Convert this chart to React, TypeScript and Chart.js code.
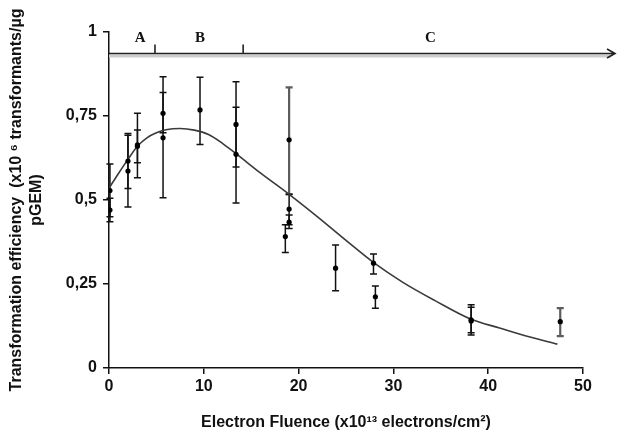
import React, { useEffect, useRef } from "react";
import { Chart, registerables } from "chart.js";

Chart.register(...registerables);

// Measured points (x: electron fluence x10^13, y: transformation efficiency)
const POINT_X = [0.1, 0.1, 2.0, 2.0, 3.0, 3.0, 5.7, 5.7, 9.6, 13.4, 13.4, 18.6, 19.0, 19.0, 19.0, 23.9, 27.9, 28.1, 38.2, 38.2, 47.6];
const POINT_Y = [0.528, 0.47, 0.616, 0.586, 0.664, 0.66, 0.758, 0.685, 0.768, 0.725, 0.636, 0.391, 0.679, 0.473, 0.434, 0.297, 0.312, 0.212, 0.143, 0.14, 0.138];
const ERR_LOW = [0.45, 0.435, 0.534, 0.479, 0.611, 0.566, 0.7, 0.507, 0.665, 0.598, 0.491, 0.344, 0.517, 0.426, 0.415, 0.23, 0.28, 0.178, 0.098, 0.105, 0.095];
const ERR_HIGH = [0.607, 0.505, 0.698, 0.693, 0.708, 0.758, 0.82, 0.867, 0.865, 0.852, 0.776, 0.426, 0.835, 0.517, 0.455, 0.366, 0.339, 0.244, 0.188, 0.181, 0.178];
const GRAY_BARS = [12, 20];

// Fitted curve
const CURVE_X = [0, 1, 2, 3, 4, 5, 6, 7.5, 9, 10.5, 12, 13.4, 16, 19, 22, 25, 28, 31, 34.3, 38.2, 41.2, 44, 47.3];
const CURVE_Y = [0.535, 0.579, 0.621, 0.66, 0.685, 0.7, 0.709, 0.713, 0.708, 0.695, 0.668, 0.638, 0.58, 0.517, 0.45, 0.38, 0.312, 0.255, 0.202, 0.145, 0.119, 0.095, 0.071];

const X_TICKS = [0, 10, 20, 30, 40, 50];
const Y_TICKS = [0, 0.25, 0.5, 0.75, 1];
const Y_TICK_LABELS = ["0", "0,25", "0,5", "0,75", "1"];

// Phase annotation on top
const ARROW_Y = 0.937;
const PHASE_BOUNDS = [4.85, 14.15];
const PHASE_LABELS = ["A", "B", "C"];
const PHASE_LABEL_X = [3.3, 9.6, 33.9];

const SANS = '"Liberation Sans", Arial, sans-serif';

const errorBarPlugin = {
  id: "errorBars",
  beforeDatasetsDraw(chart: any) {
    const { ctx } = chart;
    const x = chart.scales.x;
    const y = chart.scales.y;
    ctx.save();
    for (let i = 0; i < POINT_X.length; i++) {
      const px = x.getPixelForValue(POINT_X[i]);
      const pl = y.getPixelForValue(ERR_LOW[i]);
      const ph = y.getPixelForValue(ERR_HIGH[i]);
      const gray = GRAY_BARS.includes(i);
      ctx.strokeStyle = gray ? "#5c5c5c" : "#111";
      ctx.lineWidth = gray ? 2.2 : 1.5;
      ctx.beginPath();
      ctx.moveTo(px, pl);
      ctx.lineTo(px, ph);
      ctx.moveTo(px - 3.5, pl);
      ctx.lineTo(px + 3.5, pl);
      ctx.moveTo(px - 3.5, ph);
      ctx.lineTo(px + 3.5, ph);
      ctx.stroke();
    }
    ctx.restore();
  },
};

const phasePlugin = {
  id: "phases",
  afterDraw(chart: any) {
    const { ctx } = chart;
    const x = chart.scales.x;
    const y = chart.scales.y;
    const yA = Math.round(y.getPixelForValue(ARROW_Y)) + 0.5;
    const x0 = x.left;
    const x1 = chart.width - 12;
    ctx.save();
    ctx.fillStyle = "#cdcdcd";
    ctx.fillRect(x0, yA + 1, x1 - x0 - 4, 3);
    ctx.strokeStyle = "#222";
    ctx.lineWidth = 1.6;
    ctx.beginPath();
    ctx.moveTo(x0, yA);
    ctx.lineTo(x1, yA);
    ctx.moveTo(x1 - 8, yA - 4.5);
    ctx.lineTo(x1, yA);
    ctx.lineTo(x1 - 8, yA + 4.5);
    for (const b of PHASE_BOUNDS) {
      const px = x.getPixelForValue(b);
      ctx.moveTo(px, yA);
      ctx.lineTo(px, yA - 9);
    }
    ctx.stroke();
    ctx.fillStyle = "#111";
    ctx.font = 'bold 15px "Liberation Serif", "Times New Roman", serif';
    ctx.textAlign = "center";
    ctx.textBaseline = "middle";
    PHASE_LABELS.forEach((t, i) => {
      ctx.fillText(t, x.getPixelForValue(PHASE_LABEL_X[i]), yA - 15);
    });
    ctx.restore();
  },
};

export default function App() {
  const ref = useRef<HTMLCanvasElement | null>(null);
  useEffect(() => {
    if (!ref.current) return;
    const chart = new Chart(ref.current, {
      type: "scatter",
      data: {
        datasets: [
          {
            label: "fit",
            data: CURVE_X.map((v, i) => ({ x: v, y: CURVE_Y[i] })),
            showLine: true,
            borderColor: "#3a3a3a",
            borderWidth: 1.6,
            pointRadius: 0,
            cubicInterpolationMode: "monotone",
            fill: false,
            order: 2,
          },
          {
            label: "data",
            data: POINT_X.map((v, i) => ({ x: v, y: POINT_Y[i] })),
            showLine: false,
            pointRadius: 2.6,
            pointBackgroundColor: "#000",
            pointBorderColor: "#000",
            pointBorderWidth: 0,
            order: 1,
          },
        ],
      },
      options: {
        responsive: false,
        animation: false,
        devicePixelRatio: 1,
        layout: { padding: { top: 32, right: 44, left: 0, bottom: 0 } },
        plugins: { legend: { display: false }, tooltip: { enabled: false } },
        scales: {
          x: {
            type: "linear",
            min: 0,
            max: 50,
            afterFit: (s: any) => {
              s.height = 73;
            },
            afterBuildTicks: (s: any) => {
              s.ticks = X_TICKS.map((v) => ({ value: v }));
            },
            ticks: {
              color: "#111",
              font: { family: SANS, size: 16, weight: "bold" },
              padding: 3,
              maxRotation: 0,
            },
            grid: { display: true, drawOnChartArea: false, drawTicks: true, tickLength: 6, color: "#111", lineWidth: 1.5 },
            border: { display: true, color: "#111", width: 1.5 },
            title: {
              display: true,
              text: "Electron Fluence (x10¹³ electrons/cm²)",
              color: "#111",
              font: { family: SANS, size: 16, weight: "bold" },
              padding: { top: 4, bottom: 9 },
            },
          },
          y: {
            type: "linear",
            min: 0,
            max: 1,
            afterFit: (s: any) => {
              s.width = 109;
            },
            afterBuildTicks: (s: any) => {
              s.ticks = Y_TICKS.map((v) => ({ value: v }));
            },
            ticks: {
              color: "#111",
              font: { family: SANS, size: 16, weight: "bold" },
              padding: 6,
              callback: (v: any) => {
                const i = Y_TICKS.indexOf(Number(v));
                return i >= 0 ? Y_TICK_LABELS[i] : "";
              },
            },
            grid: { display: true, drawOnChartArea: false, drawTicks: true, tickLength: 6, color: "#111", lineWidth: 1.5 },
            border: { display: true, color: "#111", width: 1.5 },
            title: {
              display: true,
              text: ["Transformation efficiency  (x10 ⁶ transformants/µg", "pGEM)"],
              color: "#111",
              font: { family: SANS, size: 16, weight: "bold", lineHeight: 1.25 },
              padding: { top: 7, bottom: 0 },
            },
          },
        },
      },
      plugins: [errorBarPlugin, phasePlugin],
    } as any);
    return () => chart.destroy();
  }, []);
  return (
    <div style={{ position: "fixed", left: 0, top: 0, width: 627, height: 441, background: "#fff" }}>
      <canvas ref={ref} width={627} height={441} style={{ display: "block" }} />
    </div>
  );
}
